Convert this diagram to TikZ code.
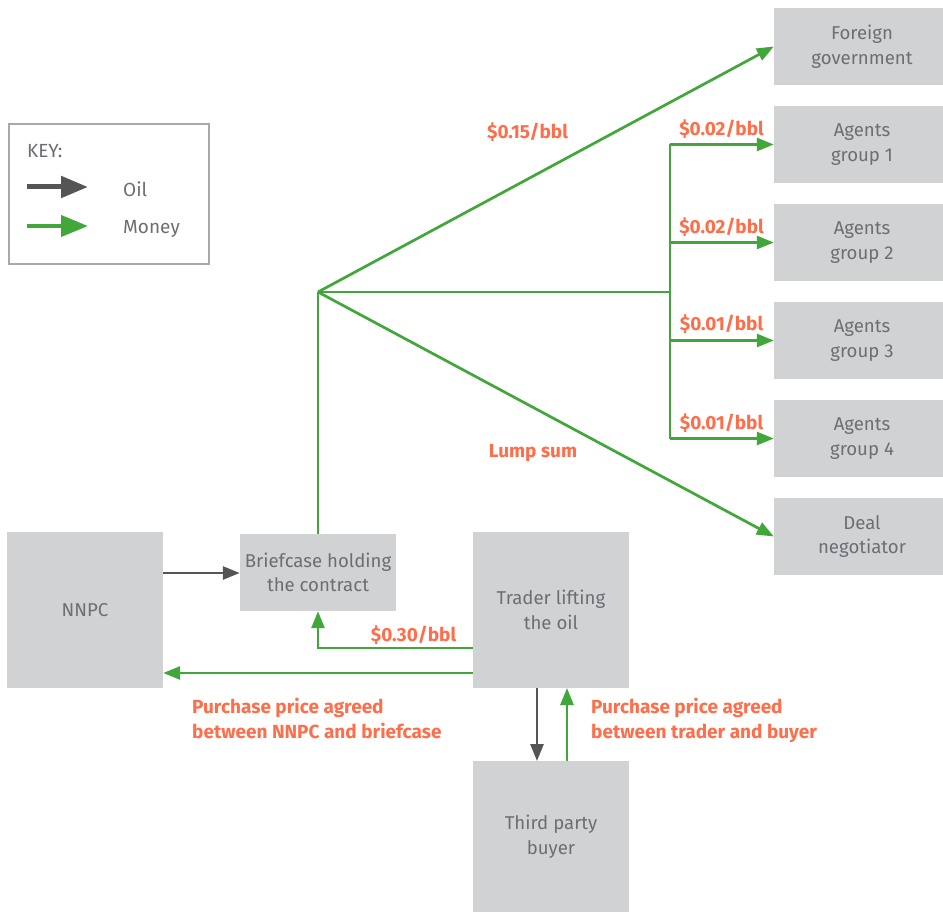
\documentclass[tikz,border=0pt]{standalone}
\usepackage{fontspec}
\setmainfont{Fira Sans}
\usetikzlibrary{arrows.meta}
\definecolor{boxfill}{HTML}{D1D2D4}
\definecolor{boxtext}{HTML}{6D6E71}
\definecolor{money}{HTML}{41A73A}
\definecolor{oil}{HTML}{555555}
\definecolor{lbl}{HTML}{FF6E4A}
\definecolor{keyframe}{HTML}{A7A9AC}
\tikzset{
  box/.style={fill=boxfill, text=boxtext, align=center, inner sep=0pt, font=\fontsize{18.6}{24.5}\selectfont},
  moneyarrow/.style={draw=money, line width=2.7pt, -{Triangle[length=17pt,width=13pt]}},
  moneyline/.style={draw=money, line width=2.7pt},
  oilarrow/.style={draw=oil, line width=2.7pt, -{Triangle[length=17pt,width=13pt]}},
  lab/.style={text=lbl, font=\fontsize{19}{25}\selectfont\bfseries, inner sep=0pt},
  keytext/.style={text=boxtext, font=\fontsize{19}{24}\selectfont, inner sep=0pt, anchor=west},
}
\begin{document}
\begin{tikzpicture}[x=1pt,y=-1pt]
\useasboundingbox (0,0) rectangle (943,912);
\fill[white] (0,0) rectangle (943,912);

% right column boxes
\node[box, minimum width=176pt, minimum height=77pt, text depth=4pt] (fg) at (862,46.5) {Foreign\\government};
\node[box, minimum width=176pt, minimum height=77pt] (a1) at (862,144.5) {Agents\\group 1};
\node[box, minimum width=176pt, minimum height=77pt] (a2) at (862,242.5) {Agents\\group 2};
\node[box, minimum width=176pt, minimum height=77pt] (a3) at (862,340.5) {Agents\\group 3};
\node[box, minimum width=176pt, minimum height=77pt] (a4) at (862,438.5) {Agents\\group 4};
\node[box, minimum width=176pt, minimum height=77pt] (dn) at (862,536.5) {Deal\\negotiator};

% lower boxes
\node[box, minimum width=156pt, minimum height=156pt] (nnpc) at (85,610) {NNPC};
\node[box, minimum width=156pt, minimum height=77pt] (bc) at (318,572.5) {Briefcase holding\\the contract};
\node[box, minimum width=156pt, minimum height=156pt] (tr) at (551,610) {Trader lifting\\the oil};
\node[box, minimum width=156pt, minimum height=151pt] (tp) at (551,836.5) {Third party\\buyer};

% key
\node[draw=keyframe, line width=2pt, minimum width=200pt, minimum height=140pt, inner sep=0pt] (key) at (109,194) {};
\node[keytext] (keyt) at (27,151) {KEY:};
\coordinate (ko1) at (27,187);
\coordinate (ko2) at (88,187);
\coordinate (km1) at (27,226);
\coordinate (km2) at (88,226);
\draw[draw=oil, line width=5pt, -{Triangle[length=27pt,width=21pt]}] (ko1) -- (ko2);
\draw[draw=money, line width=4pt, -{Triangle[length=27pt,width=21pt]}] (km1) -- (km2);
\node[keytext] (koil) at (123,189) {Oil};
\node[keytext] (kmoney) at (123,229) {Money};

% money distribution
\coordinate (hub) at (318,292);
\coordinate (split) at (670,292);
\coordinate (s1) at (670,144.5);
\coordinate (s2) at (670,242.5);
\coordinate (s3) at (670,340.5);
\coordinate (s4) at (670,438.5);
\draw[moneyline] (bc.north) -- (hub);
\draw[moneyline] (hub) -- (split);
\draw[moneyline] (s1) -- (s4);
\draw[moneyarrow] (hub) -- (fg.west);
\draw[moneyarrow] (hub) -- (dn.west);
\draw[moneyarrow] (s1) -- (a1.west);
\draw[moneyarrow] (s2) -- (a2.west);
\draw[moneyarrow] (s3) -- (a3.west);
\draw[moneyarrow] (s4) -- (a4.west);

% lower flows
\draw[oilarrow] (nnpc.east |- 0,573) -- (bc.west |- 0,573);
\draw[moneyarrow] (tr.west |- 0,648) -| (bc.south);
\draw[moneyarrow] (tr.west |- 0,673) -- (nnpc.east |- 0,673);
\draw[oilarrow] (537,688) -- (537,761);
\draw[moneyarrow] (567,761) -- (567,688);

% labels
\node[lab] (l015) at (527.5,132.5) {\$0.15/bbl};
\node[lab] (l1) at (721.5,129) {\$0.02/bbl};
\node[lab] (l2) at (721.5,227) {\$0.02/bbl};
\node[lab] (l3) at (721.5,324.5) {\$0.01/bbl};
\node[lab] (l4) at (721.5,423) {\$0.01/bbl};
\node[lab] (lump) at (533,453.5) {Lump sum};
\node[lab] (l030) at (413.5,635) {\$0.30/bbl};
\node[lab, anchor=north west, align=left] (pp1) at (192,697.5) {Purchase price agreed\\between NNPC and briefcase};
\node[lab, anchor=north west, align=left] (pp2) at (591,697.5) {Purchase price agreed\\between trader and buyer};
\end{tikzpicture}
\end{document}
